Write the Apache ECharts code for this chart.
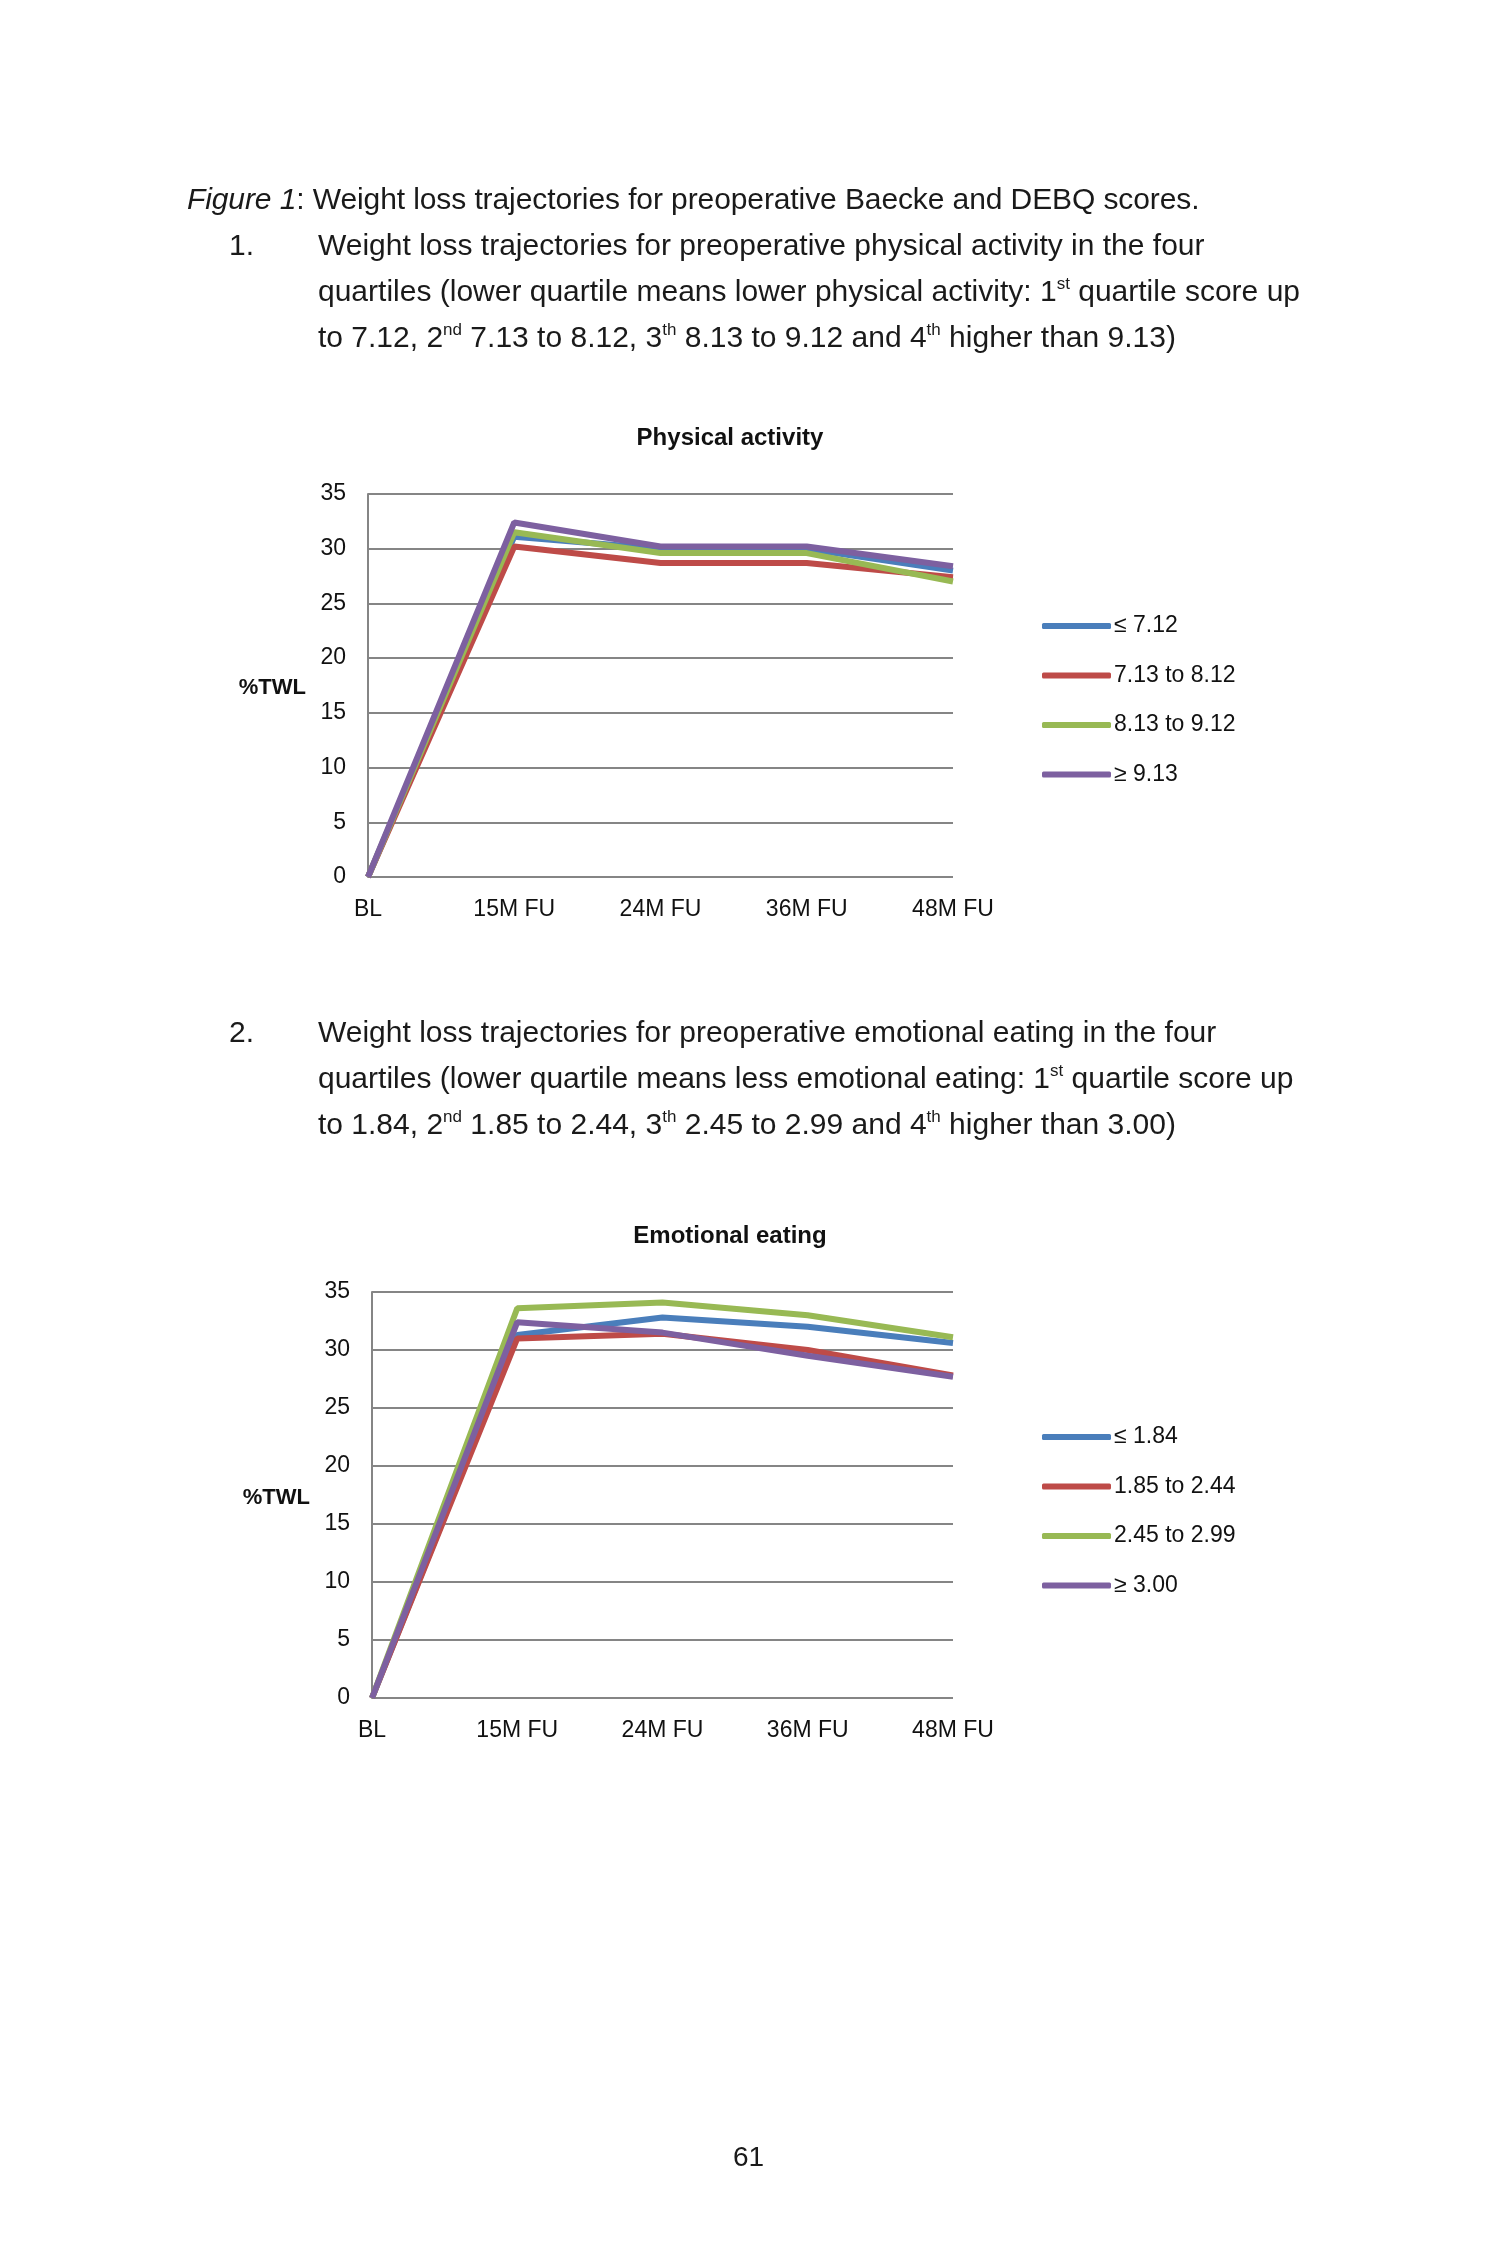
<!DOCTYPE html>
<html>
<head>
<meta charset="utf-8">
<script src="https://cdn.jsdelivr.net/npm/echarts@6/dist/echarts.min.js"></script>
<style>
  html, body { margin: 0; padding: 0; background: #ffffff; }
  body { width: 1500px; height: 2250px; position: relative; overflow: hidden; }
  #chart { position: absolute; left: 0; top: 0; width: 1500px; height: 2250px; }
  .txt { position: absolute; font-family: "Liberation Sans", Arial, Helvetica, sans-serif; font-size: 30px; line-height: 46px; color: #1a1a1a; white-space: nowrap; }
  .txt sup { font-size: 17px; line-height: 0; vertical-align: 0; position: relative; top: -12px; }
</style>
</head>
<body>
<div id="chart"></div>
<div class="txt" style="left:187px; top:176px; letter-spacing:-0.1px;"><i>Figure 1</i>: Weight loss trajectories for preoperative Baecke and DEBQ scores.</div>
<div class="txt" style="left:229px; top:222px;">1.</div>
<div class="txt" style="left:318px; top:222px;">Weight loss trajectories for preoperative physical activity in the four<br>quartiles (lower quartile means lower physical activity: 1<sup>st</sup> quartile score up<br>to 7.12, 2<sup>nd</sup> 7.13 to 8.12, 3<sup>th</sup> 8.13 to 9.12 and 4<sup>th</sup> higher than 9.13)</div>
<div class="txt" style="left:229px; top:1009px;">2.</div>
<div class="txt" style="left:318px; top:1009px;">Weight loss trajectories for preoperative emotional eating in the four<br>quartiles (lower quartile means less emotional eating: 1<sup>st</sup> quartile score up<br>to 1.84, 2<sup>nd</sup> 1.85 to 2.44, 3<sup>th</sup> 2.45 to 2.99 and 4<sup>th</sup> higher than 3.00)</div>
<div class="txt" style="left:733px; top:2134px; font-size:28px;">61</div>
<script>
// ---- data ----
const categories = ['BL', '15M FU', '24M FU', '36M FU', '48M FU'];
const yMin = 0, yMax = 35, yStep = 5;

const paTitle = 'Physical activity';
const paNames = ['≤ 7.12', '7.13 to 8.12', '8.13 to 9.12', '≥ 9.13'];
const paQ1 = [0, 31.1, 30.0, 30.0, 28.0];
const paQ2 = [0, 30.2, 28.7, 28.7, 27.4];
const paQ3 = [0, 31.5, 29.6, 29.6, 27.0];
const paQ4 = [0, 32.4, 30.2, 30.2, 28.4];

const eeTitle = 'Emotional eating';
const eeNames = ['≤ 1.84', '1.85 to 2.44', '2.45 to 2.99', '≥ 3.00'];
const eeQ1 = [0, 31.3, 32.8, 32.0, 30.6];
const eeQ2 = [0, 31.0, 31.4, 30.0, 27.8];
const eeQ3 = [0, 33.6, 34.1, 33.0, 31.1];
const eeQ4 = [0, 32.4, 31.5, 29.5, 27.7];

const yName = '%TWL';
const colors = ['#4a7ebb', '#be4b48', '#98b954', '#7d60a0'];

// ---- chart ----
const font = '"Liberation Sans", Arial, Helvetica, sans-serif';
const gridColor = '#858585';

function xAxis(gi) {
  return {
    gridIndex: gi, type: 'category', data: categories, boundaryGap: false,
    axisLine: { show: false }, axisTick: { show: false },
    axisLabel: { margin: 21, fontFamily: font, fontSize: 23, color: '#111' },
    splitLine: { show: false }
  };
}
function yAxis(gi) {
  return {
    gridIndex: gi, type: 'value', min: yMin, max: yMax, interval: yStep,
    name: yName, nameLocation: 'middle', nameRotate: 0, nameGap: 62,
    nameTextStyle: { fontFamily: font, fontSize: 22, fontWeight: 'bold', color: '#111', verticalAlign: 'top', lineHeight: 5 },
    axisLine: { show: true, lineStyle: { color: gridColor, width: 2 } },
    axisTick: { show: false },
    axisLabel: { margin: 22, fontFamily: font, fontSize: 23, color: '#111' },
    splitLine: { show: true, lineStyle: { color: gridColor, width: 2 } }
  };
}
function seriesFor(names, arrays, gi) {
  return arrays.map((d, i) => ({
    name: names[i], type: 'line', xAxisIndex: gi, yAxisIndex: gi,
    data: d, showSymbol: false, symbol: 'none', smooth: false,
    lineStyle: { color: colors[i], width: 6 }, itemStyle: { color: colors[i] },
    z: 2 + i, animation: false
  }));
}
function legend(names, top) {
  return {
    data: names, orient: 'vertical', left: 1042, top: top, padding: 0,
    itemWidth: 69, itemHeight: 6, itemGap: 24.5, icon: 'roundRect',
    textStyle: { fontFamily: font, fontSize: 23, color: '#111', lineHeight: 25, padding: [0, 0, 0, -2] },
    selectedMode: false
  };
}

const chart = echarts.init(document.getElementById('chart'), null, { renderer: 'canvas' });
chart.setOption({
  animation: false,
  backgroundColor: 'transparent',
  title: [
    { text: paTitle, left: 730, top: 426, textAlign: 'center', padding: 0,
      textStyle: { fontFamily: font, fontSize: 24, fontWeight: 'bold', color: '#111' } },
    { text: eeTitle, left: 730, top: 1224, textAlign: 'center', padding: 0,
      textStyle: { fontFamily: font, fontSize: 24, fontWeight: 'bold', color: '#111' } }
  ],
  legend: [legend(paNames, 613.5), legend(eeNames, 1424.5)],
  grid: [
    { left: 368, top: 494, width: 585, height: 383, containLabel: false },
    { left: 372, top: 1292, width: 581, height: 406, containLabel: false }
  ],
  xAxis: [xAxis(0), xAxis(1)],
  yAxis: [yAxis(0), yAxis(1)],
  series: seriesFor(paNames, [paQ1, paQ2, paQ3, paQ4], 0)
    .concat(seriesFor(eeNames, [eeQ1, eeQ2, eeQ3, eeQ4], 1))
});
</script>
</body>
</html>
